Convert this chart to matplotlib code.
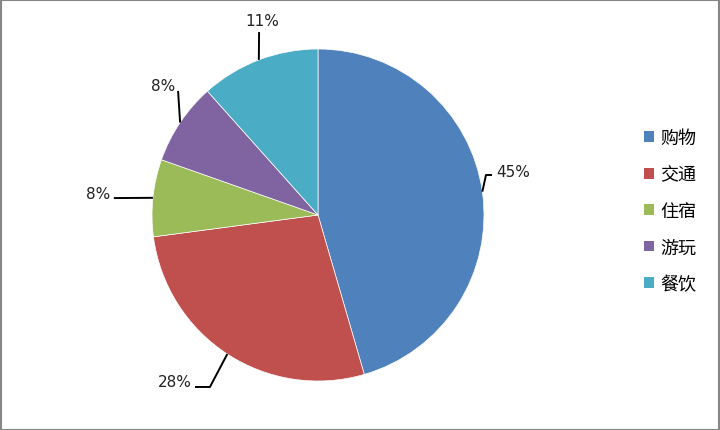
import matplotlib
matplotlib.use("Agg")
import matplotlib.pyplot as plt
from matplotlib.patches import Rectangle, Patch
import numpy as np

categories = ["购物", "交通", "住宿", "游玩", "餐饮"]
values = [45.5, 27.4, 7.5, 8.0, 11.6]
labels = ["45%", "28%", "8%", "8%", "11%"]
colors = ["#4F81BD", "#C0504D", "#9BBB59", "#8064A2", "#4BACC6"]

W, H = 720, 431
fig = plt.figure(figsize=(W / 100, H / 100), dpi=100)
cx, cy, r = 318, 215, 166
ax = fig.add_axes([(cx - r) / W, (cy - r) / H, 2 * r / W, 2 * r / H])
wedges, _ = ax.pie(values, colors=colors, startangle=90, counterclock=False,
                   radius=1, wedgeprops=dict(linewidth=0.5, edgecolor="white"))
ax.set_xlim(-1, 1)
ax.set_ylim(-1, 1)
ax.set_aspect("equal")
ax.axis("off")

# leader line paths (in axes data units) and label anchors
paths = [
    [(1.012, 0.241), (1.048, 0.241)],
    [(-0.651, -1.036), (-0.741, -1.036)],
    [(-1.23, 0.102)],
    [(-0.843, 0.747)],
    [(-0.355, 1.102)],
]
texts = [
    ((1.075, 0.265), "left", "center"),
    ((-0.76, -1.005), "right", "center"),
    ((-1.25, 0.13), "right", "center"),
    ((-0.934, 0.783), "center", "center"),
    ((-0.337, 1.17), "center", "center"),
]
for w, path, (tp, ha, va), lab in zip(wedges, paths, texts, labels):
    ang = np.deg2rad((w.theta1 + w.theta2) / 2)
    start = (np.cos(ang), np.sin(ang))
    pts = [start] + path
    xs, ys = zip(*pts)
    ax.plot(xs, ys, color="black", lw=1.4, clip_on=False, solid_capstyle="butt")
    ax.text(tp[0], tp[1], lab, ha=ha, va=va, fontsize=11, color="#222222",
            family="DejaVu Sans", clip_on=False)

handles = [Patch(facecolor=c, edgecolor="none") for c in colors]
leg = fig.legend(handles, categories, loc="center left",
                 bbox_to_anchor=(628 / W, 1 - 212 / H), frameon=False,
                 prop={"family": ["Noto Sans CJK SC", "DejaVu Sans"], "size": 13},
                 handlelength=0.55, handleheight=0.55, handletextpad=0.35,
                 labelspacing=1.02)

fig.patches.append(Rectangle((0.5 / W, 0.5 / H), 1 - 1.5 / W, 1 - 1.5 / H,
                             transform=fig.transFigure, fill=False,
                             edgecolor="#868686", lw=1.5))
fig.savefig("out.png", dpi=100)
